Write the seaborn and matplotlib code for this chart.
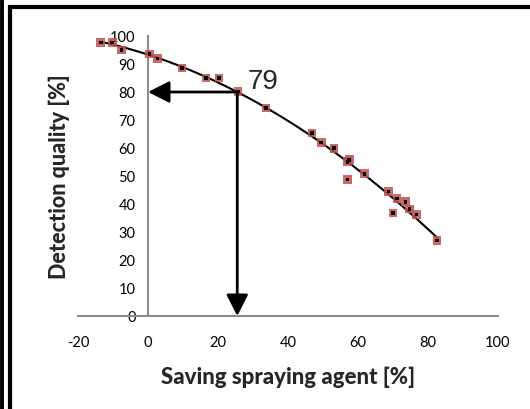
import matplotlib
matplotlib.use("Agg")
import matplotlib.pyplot as plt
import seaborn as sns
import pandas as pd
from matplotlib.lines import Line2D

# ---- data ----
saving = [-13.5, -10.2, -7.6, 0.4, 2.7, 9.7, 16.6, 20.3, 25.7, 33.7, 46.8, 49.5,
          53.1, 57.0, 57.5, 57.0, 61.9, 68.7, 70.0, 71.2, 73.6, 74.7, 76.7, 82.6]
quality = [97.7, 97.7, 95.0, 93.6, 92.0, 88.6, 85.0, 85.0, 80.2, 74.3, 65.4, 62.0,
           59.9, 55.1, 55.8, 48.8, 50.8, 44.5, 36.8, 42.0, 40.8, 38.2, 36.2, 27.0]
x_ticks = [-20, 0, 20, 40, 60, 80, 100]
y_ticks = [0, 10, 20, 30, 40, 50, 60, 70, 80, 90, 100]
read_x = 25.5
read_y = 80
read_label = "79"
x_label = "Saving spraying agent [%]"
y_label = "Detection quality [%]"

df = pd.DataFrame({"saving": saving, "quality": quality})

sns.set_theme(style="white")
plt.rcParams["font.family"] = ["Lato", "DejaVu Sans"]
plt.rcParams["axes.unicode_minus"] = False

fig = plt.figure(figsize=(5.3, 4.1), dpi=100)
ax = fig.add_axes([78 / 530, 1 - 317 / 410, 420 / 530, 280 / 410])

sns.regplot(data=df, x="saving", y="quality", order=2, ci=None, scatter=False,
            color="black", line_kws={"lw": 1.5}, ax=ax)
sns.scatterplot(data=df, x="saving", y="quality", marker="s", s=38,
                color="#c0504d", alpha=0.85, edgecolor="none", ax=ax, zorder=3)
sns.scatterplot(data=df, x="saving", y="quality", marker="s", s=7,
                color="black", edgecolor="none", ax=ax, zorder=4)

arrow = dict(arrowstyle="-|>,head_length=0.65,head_width=0.33", lw=2,
             color="black", mutation_scale=20, shrinkA=0, shrinkB=0)
ax.annotate("", xy=(0, read_y), xytext=(read_x, read_y), arrowprops=arrow, zorder=5)
ax.annotate("", xy=(read_x, 0), xytext=(read_x, read_y), arrowprops=arrow, zorder=5)
ax.text(read_x + 3, read_y + 4, read_label, fontsize=20, ha="left", va="center",
        family=["Liberation Sans", "DejaVu Sans"])

ax.set_xlim(-20, 100)
ax.set_ylim(0, 100)
ax.set_xticks(x_ticks)
ax.set_yticks(y_ticks)
ax.spines["left"].set_position(("data", 0))
ax.spines["bottom"].set_position(("data", 0))
for s in ["top", "right"]:
    ax.spines[s].set_visible(False)
for s in ["left", "bottom"]:
    ax.spines[s].set_color("#8c8c8c")
    ax.spines[s].set_linewidth(1.5)
ax.tick_params(axis="both", length=0, labelsize=10.5, colors="black")
ax.tick_params(axis="x", pad=14)
ax.tick_params(axis="y", pad=9)

ax.set_xlabel(x_label, fontsize=16, fontweight="black")
ax.set_ylabel(y_label, fontsize=15.5, fontweight="black")
ax.xaxis.set_label_coords(0.5, -0.215)
ax.xaxis.label.set_va("center")
ax.yaxis.set_label_coords(-0.045, 0.5)
ax.yaxis.label.set_va("center")

# outer frame
fig.add_artist(Line2D([0.0035, 0.0035], [0, 1], transform=fig.transFigure, color="black", lw=2.8))
fig.add_artist(Line2D([10 / 530, 10 / 530], [0, 1 - 8 / 410], transform=fig.transFigure, color="black", lw=3))
fig.add_artist(Line2D([10 / 530, 1], [1 - 8 / 410, 1 - 8 / 410], transform=fig.transFigure, color="black", lw=3, solid_capstyle="projecting"))

fig.savefig("out.png", dpi=100)
